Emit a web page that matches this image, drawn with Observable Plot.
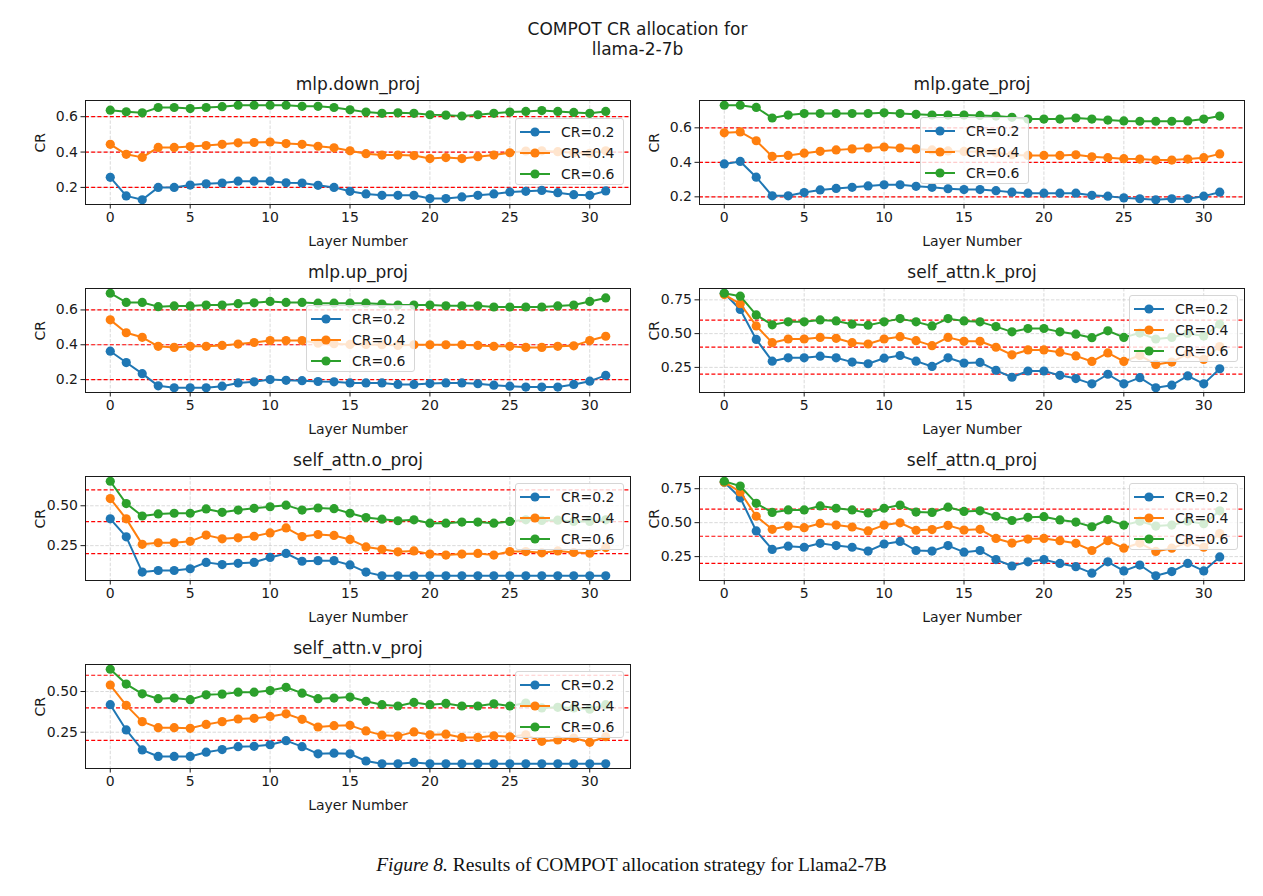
<!DOCTYPE html>
<html><head><meta charset="utf-8">
<script src="https://cdn.jsdelivr.net/npm/d3@7"></script>
<script src="https://cdn.jsdelivr.net/npm/@observablehq/plot@0.6"></script>
<style>
body{margin:0;background:#fff;}
#fig{position:relative;width:1263px;height:896px;background:#fff;font-family:"DejaVu Sans",sans-serif;overflow:hidden;color:#1a1a1a}
.sup{position:absolute;left:6px;width:1263px;text-align:center;font-size:17px;line-height:20px;top:19px}
.panel{position:absolute}
.legend{position:absolute;background:rgba(255,255,255,0.8);border:1px solid #d6d6d6;border-radius:3px;box-sizing:border-box;font-size:14px;padding:2px 0 0 4px}
.legend .row{display:flex;align-items:center;height:21px}
.legend svg{margin-right:11px}
.caption{position:absolute;left:0;width:1263px;text-align:center;font-family:"Liberation Serif","Times New Roman",serif;font-size:19.5px;top:854px;color:#111}
</style></head><body><div id="fig"></div><script>
const layers = [0,1,2,3,4,5,6,7,8,9,10,11,12,13,14,15,16,17,18,19,20,21,22,23,24,25,26,27,28,29,30,31];
const seriesNames = ["CR=0.2","CR=0.4","CR=0.6"];
const seriesColors = ["#1f77b4","#ff7f0e","#2ca02c"];
const refLines = [0.2,0.4,0.6];
const xTicks = [0,5,10,15,20,25,30];
const mlpTicks = [0.2,0.4,0.6];
const attnTicks = [0.25,0.5,0.75];

const downProj02 = [0.257,0.152,0.130,0.200,0.200,0.213,0.220,0.225,0.235,0.235,0.235,0.226,0.225,0.212,0.200,0.178,0.163,0.155,0.155,0.155,0.137,0.137,0.146,0.155,0.163,0.174,0.178,0.183,0.170,0.159,0.155,0.180];
const downProj04 = [0.444,0.387,0.370,0.426,0.426,0.431,0.437,0.444,0.452,0.454,0.457,0.448,0.444,0.433,0.424,0.407,0.391,0.383,0.383,0.380,0.363,0.369,0.363,0.374,0.383,0.396,0.406,0.407,0.402,0.396,0.393,0.407];
const downProj06 = [0.637,0.628,0.622,0.652,0.652,0.646,0.652,0.657,0.665,0.665,0.665,0.665,0.659,0.659,0.652,0.639,0.626,0.619,0.622,0.619,0.611,0.609,0.604,0.611,0.619,0.626,0.630,0.635,0.630,0.624,0.619,0.630];

const gateProj02 = [0.391,0.405,0.314,0.206,0.206,0.225,0.240,0.249,0.255,0.263,0.270,0.270,0.261,0.255,0.247,0.242,0.242,0.236,0.227,0.221,0.221,0.221,0.221,0.209,0.204,0.194,0.189,0.183,0.189,0.189,0.204,0.227];
const gateProj04 = [0.571,0.576,0.525,0.434,0.440,0.453,0.464,0.472,0.478,0.483,0.489,0.483,0.478,0.472,0.466,0.463,0.461,0.455,0.444,0.440,0.440,0.440,0.444,0.432,0.427,0.421,0.419,0.413,0.413,0.419,0.427,0.449];
const gateProj06 = [0.731,0.731,0.718,0.657,0.674,0.683,0.683,0.683,0.683,0.683,0.687,0.683,0.678,0.674,0.674,0.674,0.672,0.668,0.661,0.651,0.651,0.651,0.657,0.651,0.645,0.640,0.638,0.638,0.638,0.640,0.651,0.668];

const upProj02 = [0.363,0.298,0.234,0.164,0.153,0.153,0.153,0.162,0.181,0.187,0.200,0.196,0.194,0.189,0.187,0.181,0.181,0.181,0.172,0.172,0.177,0.181,0.181,0.176,0.168,0.162,0.157,0.157,0.157,0.172,0.191,0.224];
const upProj04 = [0.543,0.469,0.443,0.391,0.385,0.391,0.391,0.396,0.404,0.413,0.424,0.424,0.424,0.409,0.406,0.402,0.402,0.400,0.396,0.400,0.400,0.400,0.400,0.396,0.391,0.391,0.385,0.385,0.391,0.394,0.424,0.449];
const upProj06 = [0.696,0.643,0.643,0.619,0.623,0.623,0.628,0.628,0.636,0.641,0.649,0.643,0.643,0.639,0.639,0.639,0.639,0.634,0.628,0.628,0.628,0.624,0.624,0.624,0.617,0.617,0.617,0.617,0.623,0.628,0.649,0.669];

const kProj02 = [0.799,0.679,0.457,0.296,0.321,0.321,0.333,0.321,0.289,0.277,0.318,0.338,0.296,0.257,0.321,0.282,0.287,0.228,0.177,0.223,0.223,0.191,0.167,0.128,0.199,0.128,0.174,0.099,0.118,0.187,0.128,0.240];
const kProj04 = [0.789,0.721,0.557,0.433,0.460,0.460,0.472,0.465,0.433,0.423,0.460,0.477,0.448,0.411,0.472,0.443,0.443,0.399,0.343,0.379,0.379,0.362,0.335,0.294,0.357,0.294,0.338,0.272,0.289,0.350,0.309,0.404];
const kProj06 = [0.799,0.777,0.638,0.565,0.587,0.587,0.601,0.594,0.570,0.562,0.587,0.611,0.587,0.557,0.611,0.594,0.587,0.552,0.513,0.538,0.538,0.513,0.496,0.470,0.521,0.472,0.504,0.460,0.472,0.501,0.482,0.570];

const oProj02 = [0.418,0.305,0.084,0.094,0.094,0.105,0.145,0.131,0.139,0.145,0.176,0.201,0.152,0.156,0.156,0.129,0.084,0.061,0.061,0.061,0.061,0.061,0.061,0.061,0.061,0.061,0.061,0.061,0.061,0.061,0.061,0.061];
const oProj04 = [0.545,0.418,0.258,0.268,0.268,0.277,0.316,0.293,0.299,0.309,0.330,0.361,0.307,0.320,0.314,0.289,0.242,0.227,0.211,0.217,0.197,0.191,0.197,0.201,0.191,0.213,0.213,0.205,0.217,0.207,0.203,0.238];
const oProj06 = [0.654,0.514,0.436,0.449,0.453,0.453,0.480,0.459,0.473,0.484,0.494,0.504,0.473,0.486,0.482,0.453,0.426,0.416,0.406,0.412,0.391,0.391,0.398,0.398,0.391,0.402,0.412,0.408,0.410,0.402,0.402,0.412];

const qProj02 = [0.798,0.683,0.439,0.303,0.327,0.319,0.348,0.331,0.319,0.291,0.343,0.362,0.295,0.291,0.331,0.283,0.295,0.228,0.181,0.212,0.228,0.200,0.176,0.128,0.212,0.145,0.188,0.109,0.140,0.200,0.145,0.248];
const qProj04 = [0.798,0.726,0.547,0.451,0.475,0.463,0.494,0.482,0.468,0.439,0.482,0.499,0.444,0.449,0.480,0.446,0.451,0.384,0.350,0.379,0.384,0.367,0.348,0.295,0.367,0.312,0.350,0.288,0.312,0.355,0.319,0.420];
const qProj06 = [0.805,0.769,0.642,0.575,0.594,0.594,0.623,0.606,0.594,0.571,0.606,0.630,0.578,0.575,0.614,0.583,0.587,0.547,0.516,0.539,0.544,0.520,0.504,0.470,0.523,0.482,0.511,0.475,0.482,0.511,0.492,0.587];

const vProj02 = [0.419,0.264,0.141,0.101,0.101,0.101,0.127,0.143,0.161,0.163,0.173,0.198,0.161,0.117,0.121,0.117,0.073,0.056,0.056,0.064,0.056,0.056,0.056,0.056,0.056,0.056,0.056,0.056,0.056,0.056,0.056,0.056];
const vProj04 = [0.540,0.415,0.315,0.278,0.278,0.274,0.298,0.315,0.331,0.335,0.347,0.363,0.329,0.282,0.290,0.292,0.258,0.232,0.226,0.252,0.234,0.238,0.218,0.218,0.228,0.222,0.234,0.194,0.202,0.214,0.188,0.222];
const vProj06 = [0.637,0.546,0.486,0.456,0.460,0.450,0.480,0.484,0.496,0.496,0.506,0.526,0.490,0.456,0.460,0.466,0.440,0.419,0.411,0.433,0.419,0.427,0.411,0.411,0.425,0.411,0.429,0.399,0.403,0.399,0.391,0.419];

const panels = [
  {name:"mlp.down_proj", values:[downProj02,downProj04,downProj06], ticks:mlpTicks, fmt:".1f", col:0, row:0, legend:"center right"},
  {name:"mlp.gate_proj", values:[gateProj02,gateProj04,gateProj06], ticks:mlpTicks, fmt:".1f", col:1, row:0, legend:"center"},
  {name:"mlp.up_proj", values:[upProj02,upProj04,upProj06], ticks:mlpTicks, fmt:".1f", col:0, row:1, legend:"center"},
  {name:"self_attn.k_proj", values:[kProj02,kProj04,kProj06], ticks:attnTicks, fmt:".2f", col:1, row:1, legend:"upper right"},
  {name:"self_attn.o_proj", values:[oProj02,oProj04,oProj06], ticks:attnTicks, fmt:".2f", col:0, row:2, legend:"upper right"},
  {name:"self_attn.q_proj", values:[qProj02,qProj04,qProj06], ticks:attnTicks, fmt:".2f", col:1, row:2, legend:"upper right"},
  {name:"self_attn.v_proj", values:[vProj02,vProj04,vProj06], ticks:attnTicks, fmt:".2f", col:0, row:3, legend:"upper right"}
];

const fig = document.getElementById("fig");
const sup = document.createElement("div");
sup.className = "sup";
sup.innerHTML = "COMPOT CR allocation for<br>llama-2-7b";
fig.appendChild(sup);

const colLeft = [85, 699], rowTop = [100, 288, 476, 664];
const FW = 545, FH = 104;
const mL = 60, mR = 14, mT = 30, mB = 50;

function legendBox(pos, fl, ft) {
  const LW = 109, LH = 67;
  let left, top;
  if (pos === "center right") { left = fl + FW - 6 - LW; top = ft + 18; }
  else if (pos === "center") { left = fl + (FW - LW) / 2 + 3; top = ft + 17; }
  else { left = fl + FW - 6 - LW; top = ft + 7; }
  const box = document.createElement("div");
  box.className = "legend";
  box.style.left = left + "px"; box.style.top = top + "px";
  box.style.width = LW + "px"; box.style.height = LH + "px";
  seriesNames.forEach((s, i) => {
    const row = document.createElement("div");
    row.className = "row";
    row.innerHTML = `<svg width="30" height="12"><line x1="0" x2="30" y1="6" y2="6" stroke="${seriesColors[i]}" stroke-width="2"/><circle cx="15" cy="6" r="4.6" fill="${seriesColors[i]}"/></svg><span>${s}</span>`;
    box.appendChild(row);
  });
  fig.appendChild(box);
}

panels.forEach(p => {
  const all = p.values.flat();
  const lo = d3.min(all), hi = d3.max(all), pad = (hi - lo) * 0.05;
  const y0 = lo - pad, y1 = hi + pad;
  const yTicks = p.ticks.filter(t => t >= y0 && t <= y1);
  const marks = [
    Plot.gridX({ticks: xTicks, stroke: "#b0b0b0", strokeOpacity: 0.6, strokeDasharray: "3.5,1.6", strokeWidth: 0.8}),
    Plot.gridY({ticks: yTicks, stroke: "#b0b0b0", strokeOpacity: 0.6, strokeDasharray: "3.5,1.6", strokeWidth: 0.8}),
    Plot.ruleY(refLines, {stroke: "#ff0000", strokeDasharray: "4,2.2", strokeWidth: 1.2})
  ];
  p.values.forEach((vals, i) => {
    const rows = vals.map((v, j) => ({layer: layers[j], value: v}));
    marks.push(Plot.line(rows, {x: "layer", y: "value", stroke: seriesColors[i], strokeWidth: 2}));
    marks.push(Plot.dot(rows, {x: "layer", y: "value", fill: seriesColors[i], r: 4.6}));
  });
  marks.push(
    Plot.frame({stroke: "#1a1a1a", strokeWidth: 1}),
    Plot.axisX({ticks: xTicks, tickSize: 4.5, tickPadding: 3, label: null, fontSize: 14}),
    Plot.axisY({ticks: yTicks, tickSize: 4.5, tickPadding: 3, tickFormat: d3.format(p.fmt), label: null, fontSize: 14}),
    Plot.text([p.name], {text: d => d, frameAnchor: "top", dy: -16, fontSize: 17, lineAnchor: "middle"}),
    Plot.text(["Layer Number"], {text: d => d, frameAnchor: "bottom", dy: 37, fontSize: 14, lineAnchor: "middle"}),
    Plot.text(["CR"], {text: d => d, frameAnchor: "left", dx: -45, rotate: -90, fontSize: 14, lineAnchor: "middle"})
  );
  const chart = Plot.plot({
    width: FW + mL + mR, height: FH + mT + mB,
    marginLeft: mL, marginRight: mR, marginTop: mT, marginBottom: mB,
    x: {domain: [-1.55, 32.55]},
    y: {domain: [y0, y1]},
    style: {fontFamily: "DejaVu Sans, sans-serif", fontSize: "14px", color: "#1a1a1a", background: "transparent", overflow: "visible"},
    marks
  });
  const fl = colLeft[p.col], ft = rowTop[p.row];
  chart.classList.add("panel");
  chart.style.position = "absolute";
  chart.style.left = (fl - mL) + "px";
  chart.style.top = (ft - mT) + "px";
  fig.appendChild(chart);
  legendBox(p.legend, fl, ft);
});

const cap = document.createElement("div");
cap.className = "caption";
cap.innerHTML = "<i>Figure 8.</i> Results of COMPOT allocation strategy for Llama2-7B";
fig.appendChild(cap);
</script></body></html>
